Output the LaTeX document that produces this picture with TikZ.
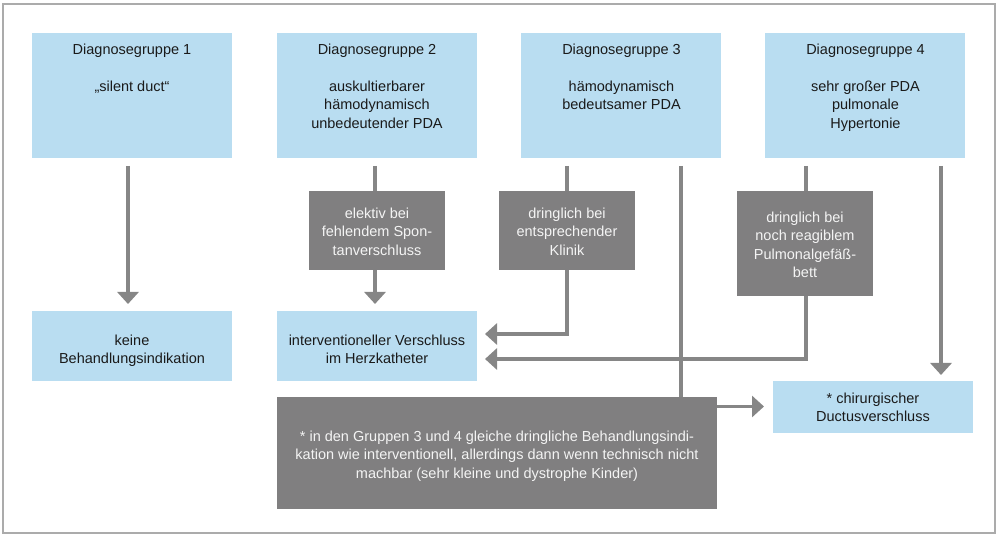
\documentclass[tikz,border=0pt]{standalone}
\usepackage{fontspec}
\setmainfont{Liberation Sans}
\usetikzlibrary{arrows.meta}
\definecolor{boxblue}{RGB}{185,221,241}
\definecolor{boxgray}{RGB}{128,127,128}
\definecolor{linegray}{RGB}{134,134,134}
\definecolor{framegray}{RGB}{171,171,171}
\definecolor{darktext}{RGB}{26,26,26}
\definecolor{lighttext}{RGB}{244,244,244}
\tikzset{
  bluebox/.style={fill=boxblue, draw=none, inner sep=0pt, anchor=north west},
  graybox/.style={fill=boxgray, draw=none, inner sep=0pt, anchor=north west},
  txt/.style={anchor=north, inner sep=0pt, align=center, text=darktext,
    font=\fontsize{14.5}{18.5}\selectfont},
  wtxt/.style={txt, text=lighttext},
  conn/.style={draw=linegray, line width=3.3pt},
  arr/.style={conn, -{Triangle[length=12pt,width=21pt]}},
}
\begin{document}
\begin{tikzpicture}[x=1pt,y=-1pt]
\useasboundingbox (0,0) rectangle (999,537);
\draw[framegray, line width=1.5pt] (3,4) rectangle (995,533);

% top boxes
\node[bluebox, minimum width=200pt, minimum height=125pt] (g1) at (32,33) {};
\node[bluebox, minimum width=200pt, minimum height=125pt] (g2) at (277,33) {};
\node[bluebox, minimum width=200pt, minimum height=125pt] (g3) at (521,33) {};
\node[bluebox, minimum width=200pt, minimum height=125pt] (g4) at (765,33) {};
\node[txt] (g1t) at (132,41.05) {\strut Diagnosegruppe 1\\[18.5pt]„silent duct“};
\node[txt] (g2t) at (377,41.05) {\strut Diagnosegruppe 2\\[18.5pt]auskultierbarer\\hämodynamisch\\unbedeutender PDA};
\node[txt] (g3t) at (621.5,41.05) {\strut Diagnosegruppe 3\\[18.5pt]hämodynamisch\\bedeutsamer PDA};
\node[txt] (g4t) at (865.5,41.05) {\strut Diagnosegruppe 4\\[18.5pt]sehr großer PDA\\pulmonale\\Hypertonie};

% gray condition boxes
\node[graybox, minimum width=136pt, minimum height=79pt] (elek) at (309,191) {};
\node[graybox, minimum width=136pt, minimum height=79pt] (dr3) at (499,191) {};
\node[graybox, minimum width=136pt, minimum height=105pt] (dr4) at (737,191) {};
\node[wtxt] (elekt) at (377,205.05) {\strut elektiv bei\\fehlendem Spon-\\tanverschluss};
\node[wtxt] (dr3t) at (567,205.05) {\strut dringlich bei\\entsprechender\\Klinik};
\node[wtxt] (dr4t) at (805,209.05) {\strut dringlich bei\\noch reagiblem\\Pulmonalgefäß-\\bett};

% result boxes
\node[bluebox, minimum width=200pt, minimum height=70pt] (keine) at (32,311) {};
\node[bluebox, minimum width=200pt, minimum height=70pt] (interv) at (277,311) {};
\node[bluebox, minimum width=200pt, minimum height=52pt] (chir) at (773,381) {};
\node[txt] (keinet) at (132,332.05) {\strut keine\\Behandlungsindikation};
\node[txt] (intervt) at (377,332.05) {\strut interventioneller Verschluss\\im Herzkatheter};
\node[txt] (chirt) at (873,390.05) {\strut * chirurgischer\\Ductusverschluss};

% note box
\node[graybox, minimum width=440pt, minimum height=112pt] (note) at (277,397) {};
\node[wtxt] (notet) at (497,428.05) {\strut * in den Gruppen 3 und 4 gleiche dringliche Behandlungsindi-\\kation wie interventionell, allerdings dann wenn technisch nicht\\machbar (sehr kleine und dystrophe Kinder)};

% connector coordinates
\coordinate (s1) at (128,166);
\coordinate (t1) at (128,304);
\coordinate (s2) at (375,166);
\coordinate (t2) at (375,304);
\coordinate (s3) at (567,166);
\coordinate (t3) at (485,334);
\coordinate (s3b) at (681,166);
\coordinate (o3) at (717,406.5);
\coordinate (t5) at (764,406.5);
\coordinate (s4) at (806,166);
\coordinate (t4) at (485,359);
\coordinate (s4b) at (941,166);
\coordinate (t6) at (941,375);

% connectors
\draw[arr] (s1) -- (t1);
\draw[conn] (s2) -- (s2 |- elek.north);
\draw[arr] (s2 |- elek.south) -- (t2);
\draw[conn] (s3) -- (s3 |- dr3.north);
\draw[arr] (s3 |- dr3.south) |- (t3);
\draw[conn] (s3b) -- (s3b |- note.north);
\draw[arr] (o3) -- (t5);
\draw[conn] (s4) -- (s4 |- dr4.north);
\draw[arr] (s4 |- dr4.south) |- (t4);
\draw[arr] (s4b) -- (t6);
\end{tikzpicture}
\end{document}
